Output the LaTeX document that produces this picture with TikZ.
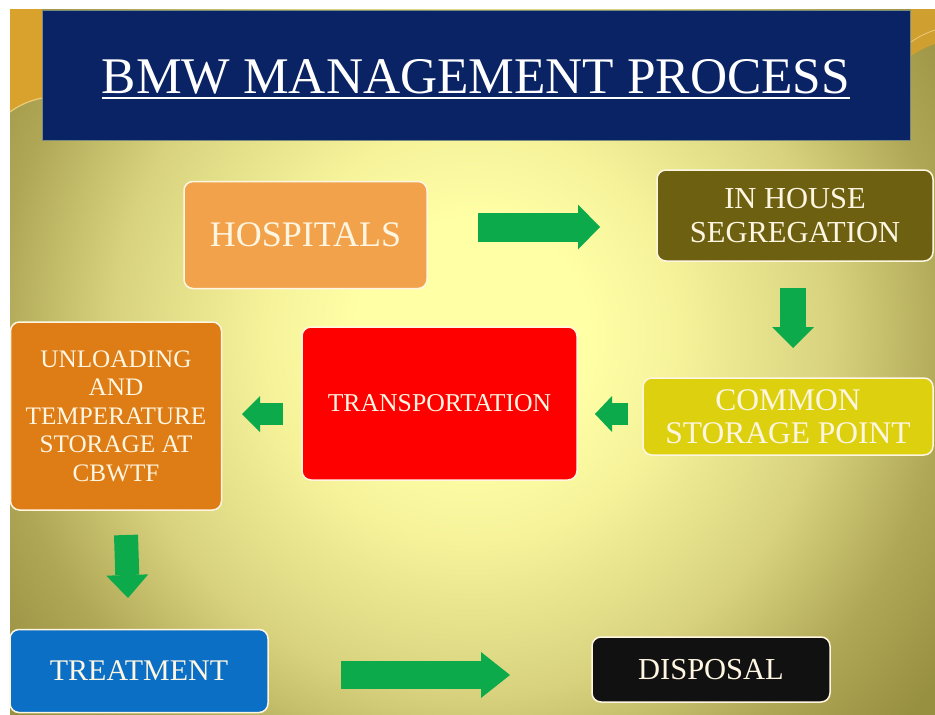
\documentclass[tikz,border=0pt]{standalone}
\usepackage{fontspec}
\setmainfont{Liberation Serif}
\usetikzlibrary{arrows.meta}

\definecolor{navy}{HTML}{0A2365}
\definecolor{navyedge}{HTML}{7A8C7E}
\definecolor{lightbg}{HTML}{FFFFA6}
\definecolor{paledbg}{HTML}{F5F29A}
\definecolor{midbg}{HTML}{D8D27E}
\definecolor{duskbg}{HTML}{AFA755}
\definecolor{olivebg}{HTML}{989041}
\definecolor{gold}{HTML}{D9A22C}
\definecolor{goldline}{HTML}{EBCB7C}
\definecolor{cream}{HTML}{FFF6E2}
\definecolor{arrowgreen}{HTML}{0DAA4C}
\definecolor{hospcol}{HTML}{F2A24B}
\definecolor{segcol}{HTML}{6D6111}
\definecolor{commoncol}{HTML}{DDD10F}
\definecolor{transcol}{HTML}{FF0000}
\definecolor{unloadcol}{HTML}{DE7C15}
\definecolor{treatcol}{HTML}{0B6FC6}
\definecolor{dispcol}{HTML}{111111}

% 25bp of the shading reaches the edge of the shaded square
\pgfdeclareradialshading{slidebg}{\pgfpoint{0bp}{0bp}}{color(0bp)=(lightbg); color(5bp)=(lightbg); color(9bp)=(paledbg); color(15.5bp)=(midbg); color(20.5bp)=(duskbg); color(25bp)=(olivebg); color(50bp)=(olivebg)}

\tikzset{
  stage/.style={draw=cream, line width=1.5pt, rounded corners=9pt, text=cream, align=center, inner sep=0pt},
  blockarrow/.style args={#1/#2/#3}{draw=arrowgreen, line width=#1, -{Triangle[length=#2, width=#3, line width=0pt]}},
}

\begin{document}
\begin{tikzpicture}[x=1pt,y=-1pt]
		\useasboundingbox (0,0) rectangle (935,715);
		
		% Slide background
		\begin{scope}
			\clip (10,9) rectangle (935,715);
			\shade[shading=slidebg] (-108,-245) rectangle (1052,915);
		\end{scope}
		\fill[gold] (10,9) -- (42,9) -- (42,98) .. controls (28,101) and (18,106) .. (10,112) -- cycle;
		\draw[goldline, line width=1.2pt] (42,98) .. controls (28,101) and (18,106) .. (10,112);
		\fill[gold!85!olivebg] (911,9) -- (935,9) -- (935,44) .. controls (926,47) and (918,51) .. (911,56) -- cycle;
		\draw[goldline, line width=0.8pt] (935,30) .. controls (926,33) and (918,37) .. (911,42);
		
		% Title bar
		\fill[navy] (42,10) rectangle (910,140);
		\draw[navyedge, line width=1pt] (42,10) rectangle (910,140);
		\node (title) [anchor=base, inner sep=0pt, text=white, font=\fontsize{51.4}{60}\selectfont] at (476,93) {BMW MANAGEMENT PROCESS};
		\draw[white, line width=2.4pt] ([yshift=-5pt]title.base west) -- ([yshift=-5pt]title.base east);
		
		% Process steps
		\node (hosp) [stage, fill=hospcol, minimum width=243pt, minimum height=107pt, font=\fontsize{36}{40}\selectfont] at (305.5,235) {HOSPITALS};
		\node (segregation) [stage, fill=segcol, minimum width=276pt, minimum height=91pt, font=\fontsize{30.5}{34}\selectfont] at (795,215.5) {IN HOUSE\\SEGREGATION};
		\node (common) [stage, fill=commoncol, minimum width=290pt, minimum height=77pt, font=\fontsize{31.5}{32.5}\selectfont] at (788,416.5) {COMMON\\STORAGE POINT};
		\node (transport) [stage, fill=transcol, minimum width=275pt, minimum height=153pt, font=\fontsize{25.7}{30}\selectfont] at (439.5,403.5) {TRANSPORTATION};
		\node (unload) [stage, fill=unloadcol, minimum width=211pt, minimum height=188pt, font=\fontsize{25.2}{28.5}\selectfont] at (116,416) {UNLOADING\\AND\\TEMPERATURE\\STORAGE AT\\CBWTF};
		\node (treatment) [stage, fill=treatcol, minimum width=258pt, minimum height=83pt, font=\fontsize{30}{36}\selectfont] at (139,671) {TREATMENT};
		\node (disposal) [stage, fill=dispcol, minimum width=238pt, minimum height=65pt, font=\fontsize{30.5}{36}\selectfont] at (711,669.5) {DISPOSAL};
		
		% Arrow ends
		\coordinate (h2s) at (478,227);
		\coordinate (h2e) at (600,227);
		\coordinate (s2s) at (793,288);
		\coordinate (s2e) at (793,348);
		\coordinate (c2s) at (628,414);
		\coordinate (c2e) at (595,414);
		\coordinate (t2s) at (283,414);
		\coordinate (t2e) at (242,414);
		\coordinate (u2s) at (126,535);
		\coordinate (u2e) at (128,598);
		\coordinate (r2s) at (341,675);
		\coordinate (r2e) at (510,675);
		
		% Draw arrows
		\draw[blockarrow=29pt/22pt/45pt] (h2s) -- (h2e);
		\draw[blockarrow=26pt/21pt/42pt] (s2s) -- (s2e);
		\draw[blockarrow=22pt/17pt/36pt] (c2s) -- (c2e);
		\draw[blockarrow=22pt/18pt/36pt] (t2s) -- (t2e);
		\draw[blockarrow=24pt/23pt/42pt] (u2s) -- (u2e);
		\draw[blockarrow=28pt/29pt/46pt] (r2s) -- (r2e);
	\end{tikzpicture}
\end{document}
